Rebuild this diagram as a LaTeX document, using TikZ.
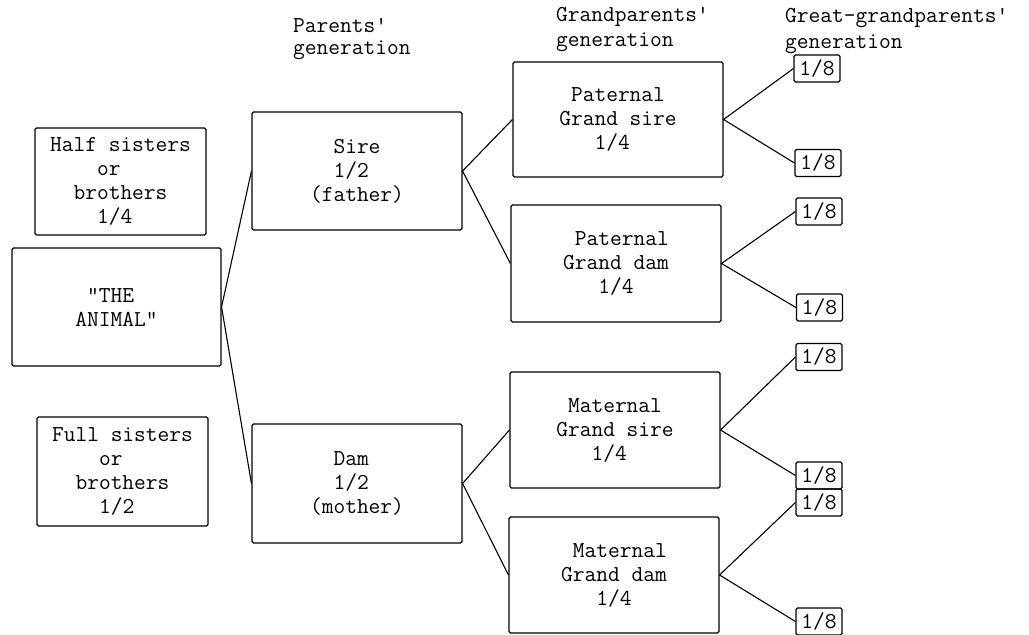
\documentclass[tikz,border=0pt]{standalone}
\newcommand{\sk}[1]{\hphantom{#1}}
\tikzset{
  tt/.style={font=\ttfamily\fontsize{22.8}{24}\selectfont},
  box/.style={tt, draw, line width=1.1pt, rounded corners=1.5pt, inner sep=0pt, align=left},
  gbox/.style={box, minimum width=210pt, minimum height=117pt},
  sibbox/.style={box, minimum width=171pt, minimum height=108pt},
  eighth/.style={box, minimum width=46pt, minimum height=27pt},
  head/.style={tt, anchor=base west, inner sep=0pt},
  link/.style={line width=1.1pt}
}
\begin{document}
\begin{tikzpicture}[x=1pt,y=-1pt]
\useasboundingbox (0,0) rectangle (1029,635);
% headers
\node[head] (hp1) at (293,32) {Parents'};
\node[head] (hp2) at (293,54) {generation};
\node[head] (hg1) at (556,21) {Grandparents'};
\node[head] (hg2) at (556,46) {generation};
\node[head] (hgg1) at (785,22) {Great-grandparents'};
\node[head] (hgg2) at (785,48) {generation};
% left column
\node[sibbox, minimum height=107pt] (half) at (120.5,181.5) {Half sisters\\\sk{0000}or\\\sk{00}brothers\\\sk{0000}1/4};
\node[box, minimum width=209pt, minimum height=118pt] (animal) at (116.5,307) {\sk{0}"THE\\ANIMAL"};
\node[sibbox, minimum height=109pt] (full) at (122.5,471.5) {Full sisters\\\sk{0000}or\\\sk{00}brothers\\\sk{0000}1/2};
% parents
\node[gbox, minimum height=118pt] (sire) at (357,171) {\sk{00}Sire\\\sk{00}1/2\\(father)};
\node[gbox, minimum height=119pt] (dam) at (357,483.5) {\sk{00}Dam\\\sk{00}1/2\\(mother)};
% grandparents
\node[gbox, minimum height=115pt] (pgs) at (618,119.5) {\sk{0}Paternal\\Grand sire\\\sk{000}1/4};
\node[gbox] (pgd) at (616,263.5) {\sk{0}Paternal\\Grand dam\\\sk{000}1/4};
\node[gbox, minimum height=116pt] (mgs) at (615,430) {\sk{0}Maternal\\Grand sire\\\sk{000}1/4};
\node[gbox, minimum height=116pt] (mgd) at (614,575) {\sk{0}Maternal\\Grand dam\\\sk{000}1/4};
% great-grandparents
\node[eighth] (e1) at (817,68.5) {1/8};
\node[eighth] (e2) at (818,163) {1/8};
\node[eighth] (e3) at (819,211.5) {1/8};
\node[eighth] (e4) at (819.5,307.5) {1/8};
\node[eighth] (e5) at (819,357) {1/8};
\node[eighth] (e6) at (819,475.5) {1/8};
\node[eighth] (e7) at (819,502.5) {1/8};
\node[eighth] (e8) at (819,621.5) {1/8};
% connectors
\draw[link] (sire.west) -- (animal.east) -- (dam.west);
\draw[link] (pgs.west) -- (sire.east) -- (pgd.west);
\draw[link] (mgs.west) -- (dam.east) -- (mgd.west);
\draw[link] (e1.west) -- (pgs.east) -- (e2.west);
\draw[link] (e3.west) -- (pgd.east) -- (e4.west);
\draw[link] (e5.west) -- (mgs.east) -- (e6.west);
\draw[link] (e7.west) -- (mgd.east) -- (e8.west);
\end{tikzpicture}
\end{document}
